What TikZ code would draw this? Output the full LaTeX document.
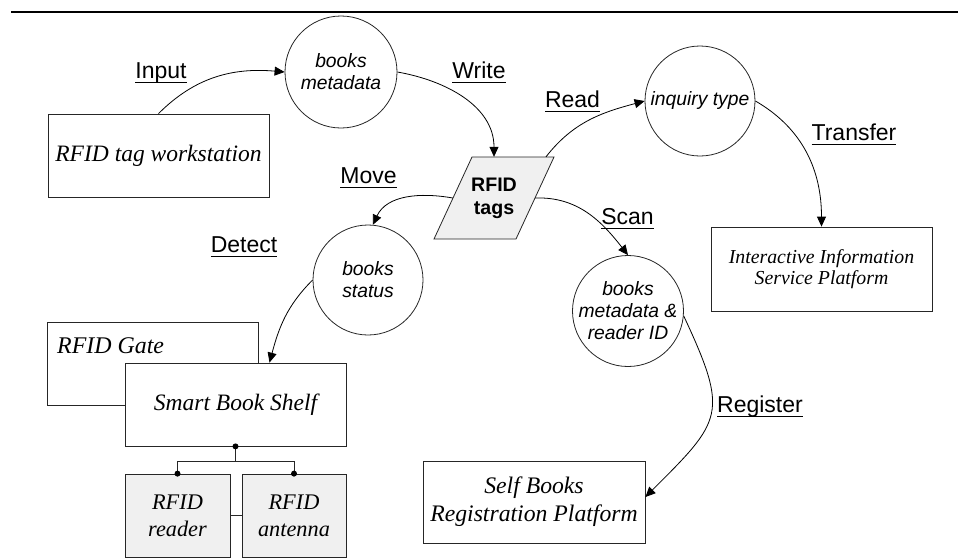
\documentclass[tikz,border=0pt]{standalone}
\usepackage{fontspec}
\setmainfont{Liberation Serif}
\setsansfont{Liberation Sans}
\usetikzlibrary{arrows.meta,calc}

\definecolor{tagfill}{gray}{0.94}
\definecolor{edge}{gray}{0.15}

% underlined flow label
\newsavebox\lblbox
\newcommand\ulabel[1]{\sbox\lblbox{#1}\rlap{\rule[-5.3pt]{\wd\lblbox}{1.3pt}}\usebox\lblbox}
\newcommand\boxfont[2]{\rmfamily\itshape\fontsize{#1}{#2}\selectfont}

\begin{document}
\begin{tikzpicture}[x=1pt,y=1pt,
  proc/.style={circle, draw=edge, line width=0.8pt, minimum size=110pt,
    inner sep=-12pt, align=center,
    font=\sffamily\itshape\fontsize{19.3}{22}\selectfont},
  ent/.style={rectangle, draw=edge, line width=0.8pt, fill=white,
    align=center, inner sep=0pt, minimum height=83pt},
  flowlbl/.style={anchor=base, inner sep=0pt,
    font=\sffamily\fontsize{23}{27}\selectfont},
  flow/.style={line width=0.8pt, -{Triangle[length=10pt,width=9pt]}},
  joint/.style={circle, fill, inner sep=0pt, minimum size=6pt},
]
\useasboundingbox (0,0) rectangle (958,-558);
\draw[line width=2pt] (11,-12) -- (958,-12);

% external entities and data stores
\node[ent, minimum width=221pt, font=\boxfont{23.5}{27}] (ws) at (158.5,-155.5) {RFID tag workstation};
\node[ent, minimum width=221pt, minimum height=84pt, font=\boxfont{19.8}{21.5}] (ii) at (821.5,-269) {Interactive Information\\Service Platform};
\node[ent, minimum width=211pt] (gate) at (152.5,-363.5) {};
\node[anchor=base west, inner sep=0pt, font=\boxfont{23.9}{27}] (gatetxt) at (57,-353) {RFID Gate};
\node[ent, minimum width=221pt, font=\boxfont{23.5}{27}] (shelf) at (235.5,-404.5) {Smart Book Shelf};
\node[ent, fill=tagfill, minimum width=105pt, font=\boxfont{22.3}{27}] (reader) at (177.5,-515.5) {RFID\\reader};
\node[ent, fill=tagfill, minimum width=104pt, font=\boxfont{22.3}{27}] (antenna) at (294,-515.5) {RFID\\antenna};
\node[ent, minimum width=222pt, minimum height=82pt, font=\boxfont{23.7}{28}] (sb) at (534,-502) {Self Books\\Registration Platform};

% processes
\node[proc, minimum size=112pt] (bm) at (341,-72) {books\\metadata};
\node[proc] (ic) at (700,-101) {inquiry type};
\node[proc] (bs) at (368,-280) {books\\status};
\node[proc, minimum size=111pt] (bmr) at (628,-311) {books\\metadata \&\\reader ID};

% RFID tags (parallelogram)
\coordinate (tc) at (494,-198);
\filldraw[fill=tagfill, draw=edge, line width=0.8pt]
  ($(tc)+(-22,41)$) -- ($(tc)+(60,41)$) -- ($(tc)+(22,-41)$) -- ($(tc)+(-60,-41)$) -- cycle;
\node[minimum width=82pt, minimum height=82pt, inner sep=0pt, align=center,
  font=\sffamily\bfseries\fontsize{19.6}{23}\selectfont] (tags) at (tc) {RFID\\tags};

% shelf components
\coordinate (jn) at ($(shelf.south)+(0,-15)$);
\draw[edge, line width=0.8pt] (shelf.south) -- (jn) -| (reader.north);
\draw[edge, line width=0.8pt] (jn) -| (antenna.north);
\draw[edge, line width=0.8pt] (reader.east) -- (antenna.west);
\node[joint] (j0) at (shelf.south) {};
\node[joint] (j1) at (reader.north) {};
\node[joint] (j2) at (antenna.north) {};

% data flows
\draw[flow] (ws.north) to[out=45,in=175] (bm.west);
\draw[flow] (bm.east) to[out=-10,in=90] (tags.north);
\draw[flow] ([xshift=52pt]tags.north) to[out=52,in=195] (ic.west);
\draw[flow] (tags.east) to[out=2,in=128] (bmr.north);
\draw[flow] (tags.west) to[out=170,in=65] (bs.85);
\draw[flow] (bs.west) to[out=225,in=75] ([xshift=34pt]shelf.north);
\draw[flow] (ic.east) to[out=-30,in=90] (ii.north);
\draw[flow] (bmr.-5) to[out=-65,in=45,looseness=1.5] ([yshift=5pt]sb.east);

% flow labels
\node[flowlbl] (lin) at (161,-78) {\ulabel{Input}};
\node[flowlbl] (lwr) at (479,-78) {\ulabel{Write}};
\node[flowlbl] (lrd) at (572.5,-107) {\ulabel{Read}};
\node[flowlbl] (lsc) at (627.5,-224) {\ulabel{Scan}};
\node[flowlbl] (lmv) at (368.5,-183) {\ulabel{Move}};
\node[flowlbl] (ldt) at (244,-252) {\ulabel{Detect}};
\node[flowlbl] (ltr) at (854,-140) {\ulabel{Transfer}};
\node[flowlbl] (lrg) at (760,-412) {\ulabel{Register}};
\end{tikzpicture}
\end{document}
